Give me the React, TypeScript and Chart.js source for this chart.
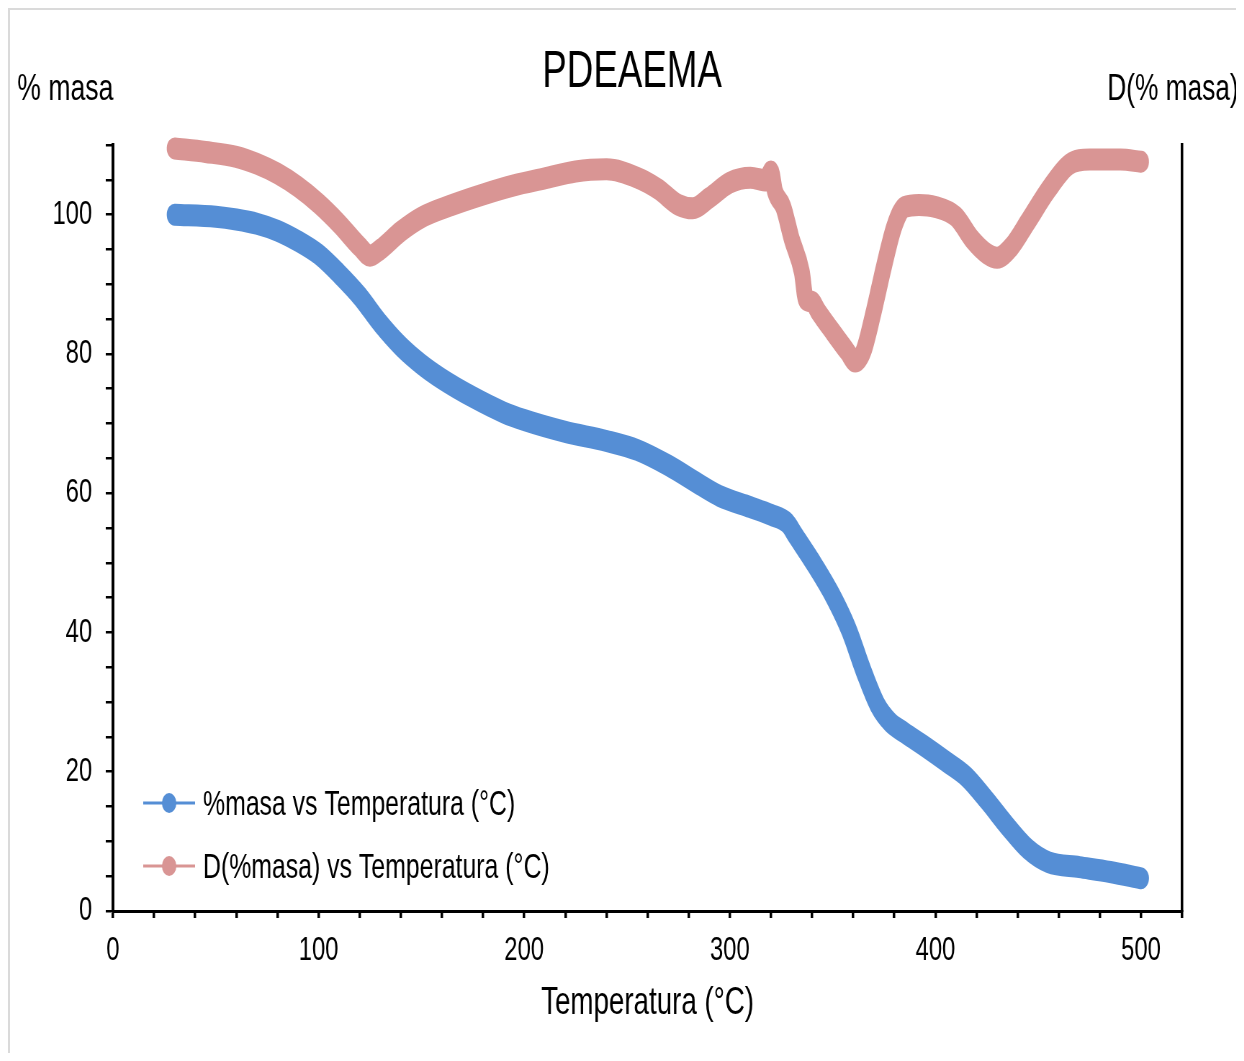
import React, { useEffect, useRef } from "react";
import { Chart, registerables } from "chart.js";

Chart.register(...registerables);

// Thermogravimetric curve of PDEAEMA: residual mass and its derivative
const massTemps = [30, 50, 60, 70, 80, 90, 100, 110, 120, 130, 140, 150, 160, 175, 190, 200, 220, 240, 255, 270, 285, 295, 310, 320, 328, 332, 340, 350, 358, 365, 372, 378, 385, 395, 405, 415, 425, 435, 445, 455, 470, 485, 500];
const massValues = [100, 99.7, 99.3, 98.7, 97.7, 96.2, 94.3, 91.5, 88.3, 84.4, 81.1, 78.5, 76.4, 73.8, 71.6, 70.5, 68.8, 67.5, 66.2, 64.0, 61.3, 59.6, 58.0, 56.9, 55.7, 53.9, 50.3, 45.3, 40.3, 34.5, 29.5, 27.1, 25.6, 23.6, 21.5, 19.3, 15.9, 12.2, 8.9, 7.0, 6.3, 5.6, 4.7];

const derivTemps = [30, 45, 60, 70, 80, 90, 100, 110, 120, 125, 130, 140, 150, 165, 180, 195, 210, 225, 240, 255, 265, 275, 282, 290, 300, 310, 318, 320, 322, 326, 330, 335, 337, 340, 343, 350, 357, 361, 365, 370, 375, 380, 385, 392, 400, 410, 418, 425, 430, 437, 445, 455, 465, 475, 490, 500];
const derivValues = [109.5, 109.0, 108.3, 107.3, 105.9, 104.0, 101.6, 98.7, 95.4, 94.1, 95.0, 97.6, 99.6, 101.4, 102.9, 104.2, 105.2, 106.2, 106.5, 105.3, 103.7, 101.4, 100.9, 102.4, 104.6, 105.3, 104.9, 106.2, 103.3, 101.1, 96.6, 91.8, 87.8, 87.5, 86.1, 83.2, 80.4, 78.9, 80.4, 86.1, 92.6, 98.3, 101.1, 101.4, 101.1, 99.7, 96.4, 94.4, 93.8, 95.4, 99.0, 103.6, 107.2, 107.9, 107.9, 107.6];

const chartTitle = "PDEAEMA";
const leftAxisTitle = "% masa";
const rightAxisTitle = "D(% masa)";
const xAxisTitle = "Temperatura (°C)";
const seriesLabels = ["%masa vs Temperatura (°C)", "D(%masa) vs Temperatura (°C)"];
const seriesColors = ["#558ed5", "#d99594"];

const FONT = "'Liberation Sans', Arial, sans-serif";
const SQUEEZE = 0.72;
const CANVAS_W = 1714;
const CANVAS_H = 1043;

const textPlugin = {
  id: "chartTexts",
  afterDraw(chart: any) {
    const { ctx, chartArea } = chart;
    ctx.save();
    ctx.fillStyle = "#000";
    ctx.textBaseline = "alphabetic";

    ctx.font = `51px ${FONT}`;
    ctx.textAlign = "center";
    ctx.fillText(chartTitle, 864, 77);

    ctx.font = `37px ${FONT}`;
    ctx.textAlign = "left";
    ctx.fillText(leftAxisTitle, 10, 90);
    ctx.font = `36.5px ${FONT}`;
    ctx.fillText(rightAxisTitle, 1524, 90);

    ctx.font = `38.5px ${FONT}`;
    ctx.textAlign = "center";
    ctx.fillText(xAxisTitle, (chartArea.left + chartArea.right) / 2, 1004);

    // legend in the lower left of the plot area
    const rows = [803, 866];
    ctx.font = `34.5px ${FONT}`;
    ctx.textAlign = "left";
    rows.forEach((cy, i) => {
      const y = cy - 10;
      ctx.strokeStyle = seriesColors[i];
      ctx.lineWidth = 3;
      ctx.beginPath();
      ctx.moveTo(185, y);
      ctx.lineTo(257, y);
      ctx.stroke();
      ctx.fillStyle = seriesColors[i];
      ctx.beginPath();
      ctx.arc(221, y, 10, 0, Math.PI * 2);
      ctx.fill();
      ctx.fillStyle = "#000";
      ctx.fillText(seriesLabels[i], 268, y + 12);
    });
    ctx.restore();
  },
};

export default function App() {
  const canvasRef = useRef<HTMLCanvasElement | null>(null);

  useEffect(() => {
    if (!canvasRef.current) return;
    const chart = new Chart(canvasRef.current, {
      type: "line",
      data: {
        datasets: [
          {
            label: seriesLabels[0],
            data: massTemps.map((t, i) => ({ x: t, y: massValues[i] })),
            borderColor: seriesColors[0],
            backgroundColor: seriesColors[0],
            borderWidth: 22,
            borderCapStyle: "round",
            borderJoinStyle: "round",
            pointRadius: 0,
            cubicInterpolationMode: "monotone",
            clip: false,
            yAxisID: "y",
          },
          {
            label: seriesLabels[1],
            data: derivTemps.map((t, i) => ({ x: t, y: derivValues[i] })),
            borderColor: seriesColors[1],
            backgroundColor: seriesColors[1],
            borderWidth: 22,
            borderCapStyle: "round",
            borderJoinStyle: "round",
            pointRadius: 0,
            cubicInterpolationMode: "monotone",
            clip: false,
            yAxisID: "y2",
          },
        ],
      },
      options: {
        animation: false,
        responsive: false,
        events: [],
        layout: { padding: { top: 135, left: 0, right: 0, bottom: 0 } },
        plugins: {
          legend: { display: false },
          title: { display: false },
          tooltip: { enabled: false },
        },
        scales: {
          x: {
            type: "linear",
            min: 0,
            max: 520,
            afterFit: (scale: any) => {
              scale.height = CANVAS_H - 901;
            },
            ticks: {
              stepSize: 20,
              autoSkip: false,
              maxRotation: 0,
              color: "#000",
              font: { family: FONT, size: 33 },
              padding: 13,
              callback: (v: any) => (Number(v) % 100 === 0 ? String(v) : ""),
            },
            grid: {
              drawOnChartArea: false,
              drawTicks: true,
              tickLength: 7,
              color: "#000",
              lineWidth: 3.5,
            },
            border: { display: true, color: "#000", width: 3 },
          },
          y: {
            type: "linear",
            position: "left",
            min: 0,
            max: 110,
            afterFit: (scale: any) => {
              scale.width = 143;
            },
            ticks: {
              stepSize: 5,
              autoSkip: false,
              color: "#000",
              font: { family: FONT, size: 33 },
              padding: 19,
              callback: (v: any) => (Number(v) % 20 === 0 ? String(v) : ""),
            },
            grid: {
              drawOnChartArea: false,
              drawTicks: true,
              tickLength: 10,
              color: "#000",
              lineWidth: 2.5,
            },
            border: { display: true, color: "#000", width: 4 },
          },
          y2: {
            type: "linear",
            position: "right",
            min: 0,
            max: 110,
            afterFit: (scale: any) => {
              scale.width = 86;
            },
            ticks: { display: false },
            grid: { drawOnChartArea: false, drawTicks: false, color: "#000" },
            border: { display: true, color: "#000", width: 3.5 },
          },
        },
      },
      plugins: [textPlugin],
    } as any);
    return () => chart.destroy();
  }, []);

  return (
    <div
      style={{
        width: 1234,
        height: CANVAS_H,
        overflow: "hidden",
        borderTop: "2px solid #dadada",
        borderLeft: "2px solid #dadada",
        background: "#fff",
        position: "relative",
      }}
    >
      <div
        style={{
          width: CANVAS_W,
          height: CANVAS_H,
          transform: `scaleX(${SQUEEZE})`,
          transformOrigin: "0 0",
        }}
      >
        <canvas ref={canvasRef} width={CANVAS_W} height={CANVAS_H} />
      </div>
    </div>
  );
}
